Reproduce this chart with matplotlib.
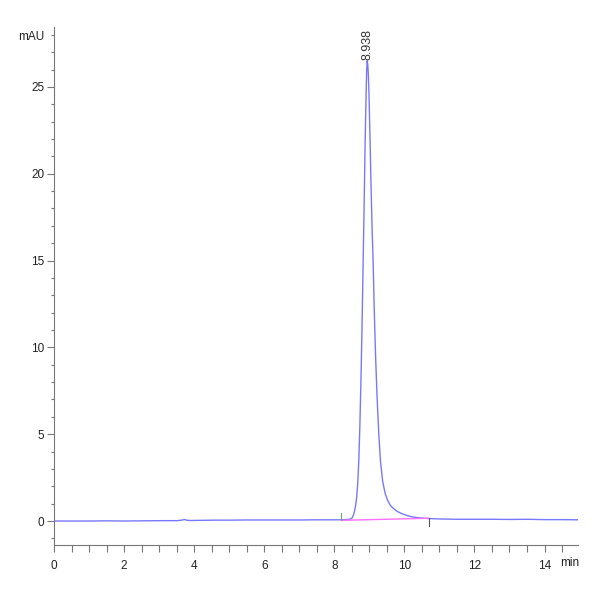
import matplotlib
matplotlib.use("Agg")
import matplotlib.pyplot as plt
from matplotlib.ticker import MultipleLocator

# chromatogram points (time in min, signal in mAU)
time_min = [0.0, 0.5, 1.0, 1.5, 2.0, 2.5, 3.0, 3.5, 3.65, 3.72, 3.8, 3.9, 4.2, 4.6, 5.0, 5.5, 6.0,
            6.5, 7.0, 7.5, 7.9, 8.2, 8.4, 8.5, 8.55, 8.58, 8.61, 8.64, 8.67, 8.70, 8.73, 8.76,
            8.79, 8.82, 8.85, 8.88, 8.91, 8.925, 8.938, 8.955, 8.97, 8.99, 9.02, 9.05, 9.08,
            9.11, 9.14, 9.18, 9.22, 9.27, 9.32, 9.38, 9.45, 9.52, 9.60, 9.70, 9.80, 9.90,
            10.0, 10.1, 10.2, 10.35, 10.5, 10.7, 11.0, 11.5, 12.0, 12.5, 13.0, 13.5, 14.0,
            14.5, 14.95]
signal_mau = [0.0, 0.0, 0.0, 0.01, 0.0, 0.01, 0.02, 0.02, 0.05, 0.09, 0.04, 0.03, 0.04, 0.05, 0.05, 0.06, 0.06,
              0.06, 0.06, 0.07, 0.07, 0.07, 0.09, 0.15, 0.35, 0.6, 0.9, 1.4, 2.2, 3.5, 5.5, 8.0,
              11.0, 14.5, 18.0, 21.8, 24.8, 26.0, 26.5, 26.3, 25.8, 24.6, 22.0, 19.2, 16.8,
              14.8, 12.2, 9.4, 7.2, 5.0, 3.4, 2.3, 1.6, 1.2, 0.9, 0.7, 0.55, 0.45,
              0.37, 0.3, 0.25, 0.2, 0.17, 0.14, 0.12, 0.1, 0.1, 0.1, 0.09, 0.1, 0.08,
              0.08, 0.07]

peak_rt = 8.938
peak_height = 26.5
peak_label = "8.938"
baseline_start = (8.2, 0.04)
baseline_end = (10.7, 0.16)

x_major = [0, 2, 4, 6, 8, 10, 12, 14]
y_major = [0, 5, 10, 15, 20, 25]

fnt = ['Liberation Sans Narrow', 'Liberation Sans', 'DejaVu Sans']
plt.rcParams['font.family'] = fnt

fig = plt.figure(figsize=(6, 6), dpi=100)
ax = fig.add_axes([0.09, 0.0917, 0.873, 0.8633])

ax.plot(time_min, signal_mau, color='#7878ff', lw=1.0)
ax.plot([baseline_start[0], baseline_end[0]], [baseline_start[1], baseline_end[1]],
        color='#ff70ff', lw=1.0)
# integration markers
ax.plot([baseline_start[0]] * 2, [baseline_start[1], baseline_start[1] + 0.45], color='#66aa66', lw=0.8)
ax.plot([baseline_end[0]] * 2, [baseline_end[1], baseline_end[1] - 0.45], color='#555555', lw=0.8)

ax.text(peak_rt, peak_height + 0.05, peak_label, rotation=90, ha='center', va='bottom',
        fontsize=9, color='#333333')

ax.set_xlim(0, 14.95)
ax.set_ylim(-1.38, 28.45)
ax.set_xticks(x_major)
ax.set_yticks(y_major)
ax.xaxis.set_minor_locator(MultipleLocator(0.5))
ax.yaxis.set_minor_locator(MultipleLocator(1))

for s in ['top', 'right']:
    ax.spines[s].set_visible(False)
for s in ['left', 'bottom']:
    ax.spines[s].set_color('#777777')
    ax.spines[s].set_linewidth(0.8)

ax.tick_params(axis='both', which='major', labelsize=8.5, colors='#777777', labelcolor='#222222',
               length=5, width=0.8)
ax.tick_params(axis='x', which='minor', length=5, width=0.8, colors='#777777')
ax.tick_params(axis='y', which='minor', length=2, width=0.8, colors='#777777')
ax.tick_params(axis='x', pad=6)
ax.tick_params(axis='y', pad=2)

fig.text(0.074, 0.938, 'mAU', ha='right', va='center', fontsize=8.5, color='#222222')
fig.text(0.965, 0.062, 'min', ha='right', va='center', fontsize=8.5, color='#222222')

fig.savefig('out.png', dpi=100)
